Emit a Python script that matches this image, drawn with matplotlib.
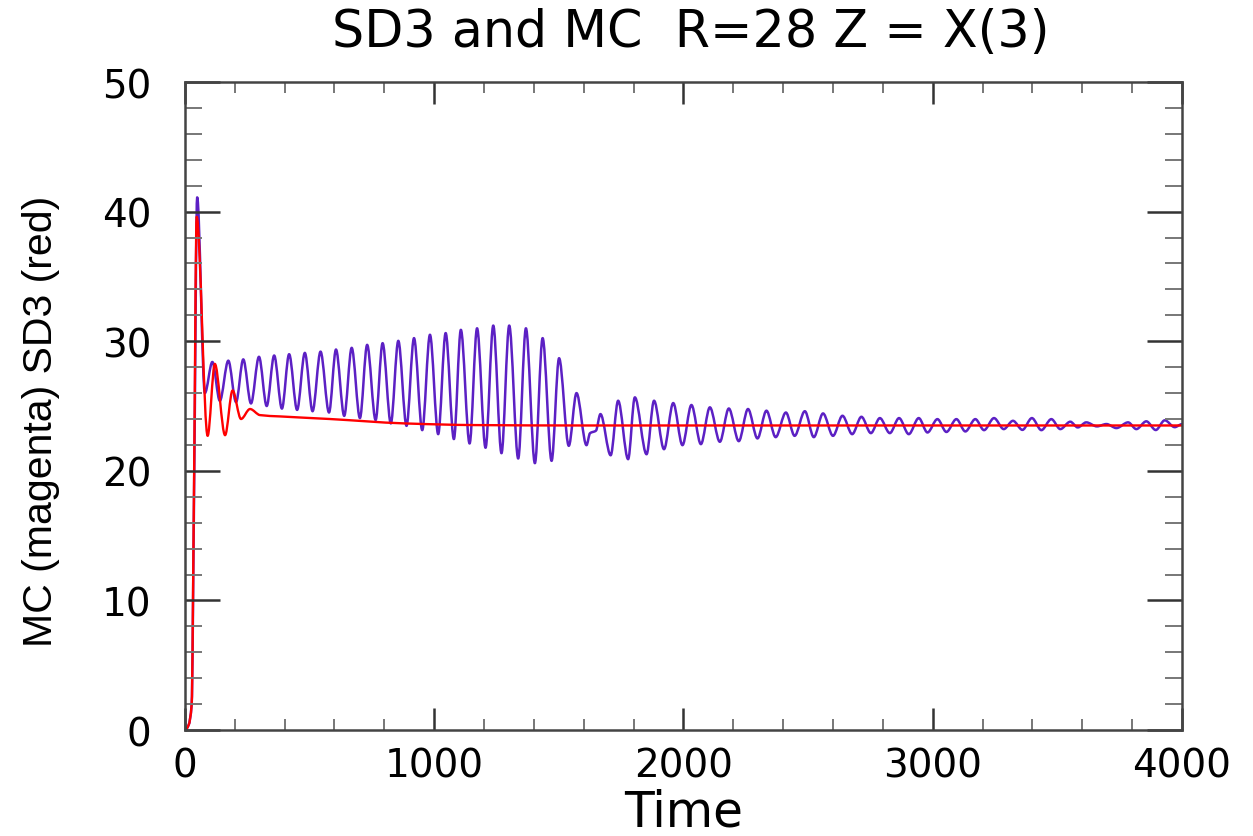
import numpy as np
import matplotlib
matplotlib.use("Agg")
import matplotlib.pyplot as plt
from matplotlib.path import Path
from matplotlib.patches import PathPatch
from matplotlib.ticker import MultipleLocator

# ---- data (extrema / key points) ----
mc_t = [0, 15, 27, 37, 49, 80, 110, 140, 174, 205, 234, 265, 297, 328, 358, 389, 418, 450,
        481, 512, 544, 578, 606, 639, 669, 702, 731, 765, 793, 826, 856, 889, 919, 952,
        983, 1016, 1046, 1079, 1107, 1142, 1172, 1206, 1237, 1270, 1301, 1337, 1368, 1404,
        1435, 1471, 1501, 1540, 1571, 1611, 1625, 1649, 1667, 1708, 1738, 1778, 1805, 1852,
        1882, 1922, 1959, 1996, 2032, 2070, 2106, 2146, 2182, 2222, 2259, 2297, 2333, 2370,
        2411, 2446, 2487, 2523, 2560, 2600, 2638, 2677, 2714, 2752, 2788, 2828, 2865, 2904,
        2944, 2979, 3019, 3055, 3095, 3131, 3171, 3206, 3246, 3285, 3322, 3360, 3398, 3436,
        3476, 3512, 3552, 3582, 3616, 3659, 3697, 3737, 3784, 3817, 3857, 3895, 3931, 3971,
        4000]
mc_v = [0.0, 0.4, 2.0, 19.0, 41.1, 26.0, 28.4, 25.4, 28.5, 25.3, 28.6, 25.2, 28.8, 25.0,
        28.9, 24.8, 29.0, 24.7, 29.1, 24.6, 29.2, 24.5, 29.36, 24.24, 29.49, 24.07, 29.72,
        23.92, 29.85, 23.66, 30.03, 23.47, 30.24, 23.14, 30.5, 22.83, 30.63, 22.45, 30.88,
        22.11, 31.0, 21.78, 31.21, 21.36, 31.21, 20.95, 31.0, 20.59, 30.24, 20.77, 28.69,
        21.93, 26.0, 21.98, 22.9, 23.1, 24.38, 21.2, 25.41, 20.9, 25.67, 21.28, 25.41, 21.67,
        25.23, 21.98, 25.08, 22.06, 24.9, 22.24, 24.81, 22.29, 24.77, 22.5, 24.64, 22.6, 24.5,
        22.7, 24.6, 22.6, 24.43, 22.7, 24.25, 22.83, 24.17, 22.91, 24.07, 22.91, 24.07, 22.83,
        24.07, 22.96, 23.99, 23.0, 23.99, 23.04, 23.99, 23.14, 24.07, 23.22, 23.86, 23.16,
        24.07, 23.14, 23.99, 23.22, 23.79, 23.35, 23.74, 23.43, 23.61, 23.3, 23.74, 23.22,
        23.82, 23.15, 23.9, 23.37, 23.6]

sd3_t = [0, 15, 27, 36, 47, 91, 120, 161, 191, 225, 261, 301, 380, 580, 880, 1165, 1600, 4000]
sd3_v = [0.0, 0.4, 2.0, 18.0, 39.6, 22.7, 28.25, 22.75, 26.2, 24.0, 24.77, 24.3, 24.2,
         24.0, 23.66, 23.53, 23.5, 23.5]

x_ticks = [0, 1000, 2000, 3000, 4000]
y_ticks = [0, 10, 20, 30, 40, 50]

title = "SD3 and MC  R=28 Z = X(3)"
xlabel = "Time"
ylabel = "MC (magenta) SD3 (red)"


def smooth_path(x, y):
    """Monotone cubic (PCHIP-style) Bezier path through the given points."""
    x = np.asarray(x, float)
    y = np.asarray(y, float)
    n = len(x)
    h = np.diff(x)
    d = np.diff(y) / h
    m = np.zeros(n)
    for k in range(1, n - 1):
        if d[k - 1] * d[k] > 0:
            w1 = 2 * h[k] + h[k - 1]
            w2 = h[k] + 2 * h[k - 1]
            m[k] = (w1 + w2) / (w1 / d[k - 1] + w2 / d[k])
    verts = [(x[0], y[0])]
    codes = [Path.MOVETO]
    for k in range(n - 1):
        verts += [(x[k] + h[k] / 3, y[k] + m[k] * h[k] / 3),
                  (x[k + 1] - h[k] / 3, y[k + 1] - m[k + 1] * h[k] / 3),
                  (x[k + 1], y[k + 1])]
        codes += [Path.CURVE4] * 3
    return Path(verts, codes)


fig = plt.figure(figsize=(12.53, 8.37), dpi=100)
ax = fig.add_axes([0.1476, 0.1266, 0.7957, 0.7742])

ax.add_patch(PathPatch(smooth_path(mc_t, mc_v), fill=False, edgecolor="#5c20c4",
                       lw=1.8, joinstyle="round", capstyle="round"))
ax.add_patch(PathPatch(smooth_path(sd3_t, sd3_v), fill=False, edgecolor="#ff0000",
                       lw=1.7, joinstyle="round", capstyle="round"))

ax.set_xlim(0, 4000)
ax.set_ylim(0, 50)
ax.set_xticks(x_ticks)
ax.set_yticks(y_ticks)
ax.xaxis.set_minor_locator(MultipleLocator(200))
ax.yaxis.set_minor_locator(MultipleLocator(2))

for s in ax.spines.values():
    s.set_color("#444444")
    s.set_linewidth(1.8)

ax.tick_params(axis="x", which="major", direction="in", top=True, bottom=True,
               length=16, width=1.8, color="#333333", pad=12, labelsize=28)
ax.tick_params(axis="x", which="minor", direction="in", top=True, bottom=True,
               length=8, width=1.4, color="#777777")
ax.tick_params(axis="y", which="major", direction="in", left=True, right=True,
               length=25, width=1.8, color="#333333", pad=24, labelsize=28)
ax.tick_params(axis="y", which="minor", direction="in", left=True, right=True,
               length=12, width=1.4, color="#777777")
for lab in ax.get_xticklabels() + ax.get_yticklabels():
    lab.set_family("DejaVu Sans")

fig.text(0.551, 0.960, title, ha="center", va="center", fontsize=36.5,
         family=["DejaVu Sans"])
fig.text(0.5455, 0.029, xlabel, ha="center", va="center", fontsize=35,
         family=["DejaVu Sans"])
fig.text(0.033, 0.496, ylabel, ha="center", va="center", rotation=90, fontsize=29.5,
         family=["Liberation Sans", "DejaVu Sans"])

fig.savefig("out.png", dpi=100)
